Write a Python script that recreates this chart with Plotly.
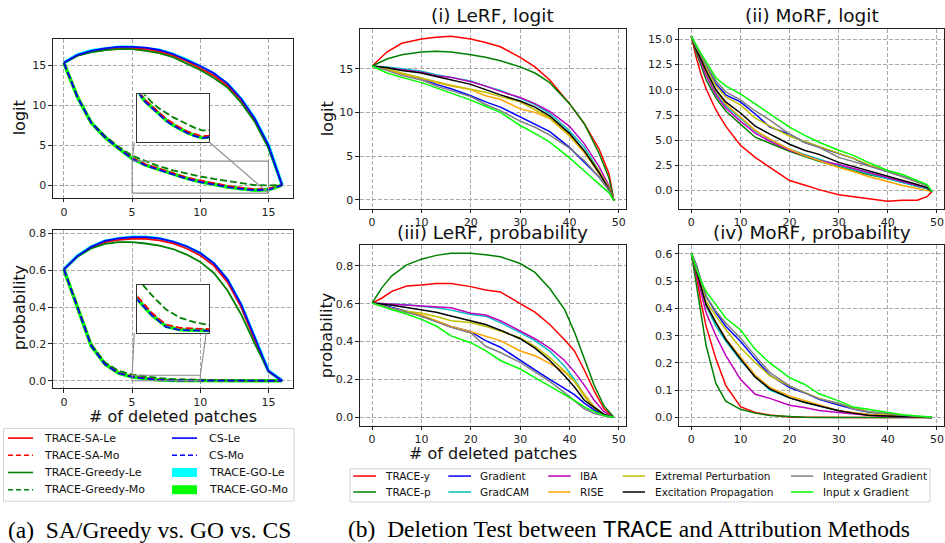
import plotly.graph_objects as go

W, H = 945, 543
FONT = "DejaVu Sans"

# ---------------- (a) data ----------------
xa = list(range(17))
# logit
logit_sa_le = [15.3, 16.2, 16.7, 16.9, 17.1, 17.1, 17.0, 16.7, 16.2, 15.5, 14.6, 13.7, 12.4, 10.6, 8.1, 4.8, 0.0]
logit_greedy_le = [15.3, 16.2, 16.6, 16.9, 17.0, 17.0, 16.8, 16.5, 16.0, 15.2, 14.4, 13.4, 12.2, 10.3, 7.9, 4.6, 0.0]
logit_cs_le = [15.3, 16.3, 16.8, 17.1, 17.3, 17.3, 17.2, 16.9, 16.4, 15.7, 14.9, 14.0, 12.7, 10.8, 8.3, 5.0, 0.0]
logit_go_le = [15.3, 16.3, 16.8, 17.05, 17.25, 17.25, 17.1, 16.85, 16.35, 15.65, 14.8, 13.9, 12.6, 10.75, 8.25, 4.95, 0.0]
logit_sa_mo = [15.3, 11.0, 7.8, 6.05, 4.65, 3.4, 2.6, 2.05, 1.45, 0.95, 0.58, 0.2, -0.1, -0.32, -0.5, -0.44, 0.0]
logit_greedy_mo = [15.3, 11.0, 7.9, 6.2, 4.8, 3.7, 3.0, 2.35, 1.85, 1.45, 1.08, 0.78, 0.5, 0.2, 0.0, -0.03, 0.0]
logit_cs_mo = [15.3, 11.0, 7.8, 6.0, 4.6, 3.3, 2.45, 1.9, 1.3, 0.8, 0.39, 0.05, -0.25, -0.48, -0.65, -0.58, 0.0]
logit_go_mo = [15.3, 11.0, 7.8, 6.0, 4.6, 3.35, 2.5, 1.95, 1.35, 0.85, 0.43, 0.08, -0.22, -0.45, -0.62, -0.56, 0.0]
# probability
prob_sa_le = [0.605, 0.675, 0.722, 0.752, 0.765, 0.770, 0.770, 0.762, 0.745, 0.718, 0.680, 0.625, 0.535, 0.400, 0.220, 0.050, 0.0]
prob_greedy_le = [0.605, 0.675, 0.718, 0.743, 0.752, 0.752, 0.745, 0.733, 0.715, 0.685, 0.645, 0.585, 0.490, 0.360, 0.200, 0.052, 0.0]
prob_cs_le = [0.605, 0.678, 0.727, 0.759, 0.773, 0.780, 0.780, 0.773, 0.755, 0.730, 0.693, 0.638, 0.549, 0.414, 0.234, 0.054, 0.0]
prob_go_le = [0.605, 0.677, 0.725, 0.757, 0.771, 0.778, 0.778, 0.771, 0.752, 0.727, 0.690, 0.634, 0.545, 0.410, 0.230, 0.053, 0.0]
prob_sa_mo = [0.605, 0.398, 0.192, 0.092, 0.043, 0.0228, 0.0125, 0.0052, 0.0031, 0.0025, 0.0021, 0.0016, 0.0012, 0.0009, 0.0006, 0.0004, 0.0]
prob_greedy_mo = [0.605, 0.400, 0.200, 0.100, 0.055, 0.034, 0.0235, 0.0145, 0.0093, 0.0066, 0.0048, 0.0035, 0.0025, 0.0017, 0.0011, 0.0007, 0.0]
prob_cs_mo = [0.605, 0.396, 0.189, 0.090, 0.041, 0.0207, 0.011, 0.0037, 0.0017, 0.0012, 0.001, 0.0008, 0.0006, 0.0005, 0.0004, 0.0003, 0.0]
prob_go_mo = [0.605, 0.396, 0.190, 0.091, 0.042, 0.021, 0.0112, 0.004, 0.0019, 0.0013, 0.0011, 0.0009, 0.0007, 0.0005, 0.0004, 0.0003, 0.0]

# ---------------- (b) data ----------------
methods = ["TRACE-y", "TRACE-p", "Gradient", "GradCAM", "IBA", "RISE",
           "Extremal Perturbation", "Excitation Propagation", "Integrated Gradient", "Input x Gradient"]
method_colors = ["#ff0000", "#008000", "#0000ff", "#00bfbf", "#bf00bf", "#ffa500",
                 "#bfbf00", "#000000", "#808080", "#00ff00"]

x_lerf_logit = [0, 3, 6, 10, 13, 16, 20, 23, 26, 30, 33, 36, 40, 43, 46, 48, 49]
lerf_logit_trace_y = [15.3, 16.9, 17.9, 18.4, 18.6, 18.7, 18.4, 18.0, 17.5, 16.3, 15.2, 13.7, 11.0, 8.7, 5.8, 3.0, -0.1]
lerf_logit_trace_p = [15.3, 16.1, 16.6, 16.9, 17.0, 16.9, 16.6, 16.3, 15.9, 15.2, 14.5, 13.4, 11.0, 8.7, 5.3, 2.5, -0.1]
lerf_logit_gradient = [15.3, 14.9, 14.4, 13.9, 13.2, 12.7, 11.9, 11.2, 10.6, 9.5, 8.7, 7.8, 6.0, 4.3, 2.6, 1.1, -0.1]
lerf_logit_gradcam = [15.3, 15.2, 15.0, 14.7, 14.3, 14.0, 13.6, 13.0, 12.5, 11.6, 10.9, 9.9, 7.9, 6.0, 3.3, 1.3, -0.1]
lerf_logit_iba = [15.3, 15.1, 14.9, 14.6, 14.2, 14.0, 13.5, 13.0, 12.4, 11.7, 11.0, 10.1, 8.4, 6.4, 3.8, 1.6, -0.1]
lerf_logit_rise = [15.3, 14.9, 14.4, 13.9, 13.4, 13.0, 12.6, 11.9, 11.5, 10.4, 10.0, 9.3, 7.3, 5.4, 3.0, 1.3, -0.1]
lerf_logit_extremal = [15.3, 15.0, 14.5, 13.9, 13.5, 13.1, 12.6, 12.3, 11.8, 11.2, 10.3, 9.4, 7.4, 5.6, 3.3, 1.4, -0.1]
lerf_logit_excitation = [15.3, 15.1, 14.8, 14.5, 14.1, 13.7, 13.2, 12.6, 12.0, 11.3, 10.6, 9.6, 7.6, 5.6, 3.1, 1.2, -0.1]
lerf_logit_intgrad = [15.3, 14.8, 14.2, 13.7, 13.0, 12.5, 11.8, 10.9, 10.2, 9.0, 8.3, 7.4, 5.9, 4.5, 2.6, 1.1, -0.1]
lerf_logit_inputxgrad = [15.3, 14.5, 14.0, 13.4, 12.8, 12.2, 11.4, 10.7, 10.0, 8.5, 7.6, 6.6, 4.8, 3.3, 1.8, 0.8, -0.1]

x_morf_logit = [0, 1, 2, 3, 5, 7, 10, 13, 16, 20, 23, 26, 30, 33, 36, 40, 43, 46, 48, 49]
morf_logit_trace_y = [15.3, 13.2, 11.5, 10.1, 8.0, 6.4, 4.5, 3.3, 2.3, 1.0, 0.55, 0.1, -0.4, -0.6, -0.85, -1.05, -0.95, -0.95, -0.6, -0.1]
morf_logit_trace_p = [15.3, 13.7, 12.4, 11.0, 9.2, 7.9, 6.6, 5.3, 4.7, 3.9, 3.4, 2.9, 2.4, 2.0, 1.6, 1.2, 0.8, 0.4, 0.2, -0.1]
morf_logit_gradient = [15.3, 14.1, 13.3, 12.3, 10.6, 9.5, 8.8, 7.6, 6.3, 5.6, 4.8, 4.3, 3.7, 3.2, 2.5, 1.9, 1.4, 0.9, 0.5, -0.1]
morf_logit_gradcam = [15.3, 14.0, 12.9, 11.6, 9.7, 8.4, 7.2, 5.9, 5.1, 4.1, 3.6, 3.1, 2.5, 2.1, 1.7, 1.2, 0.8, 0.4, 0.2, -0.1]
morf_logit_iba = [15.3, 13.9, 12.7, 11.4, 9.5, 8.2, 6.9, 5.7, 4.9, 4.0, 3.5, 3.0, 2.6, 2.2, 1.8, 1.3, 0.9, 0.5, 0.3, -0.1]
morf_logit_rise = [15.3, 14.0, 13.0, 11.8, 9.9, 8.6, 7.3, 6.0, 5.1, 4.1, 3.5, 3.0, 2.3, 1.9, 1.4, 0.9, 0.5, 0.2, 0.05, -0.1]
morf_logit_extremal = [15.3, 14.1, 13.2, 12.2, 10.4, 9.3, 8.5, 7.2, 6.4, 5.4, 4.9, 4.4, 3.7, 3.2, 2.6, 1.9, 1.4, 0.9, 0.5, -0.1]
morf_logit_excitation = [15.3, 14.0, 13.0, 11.9, 10.0, 8.8, 7.7, 6.4, 5.6, 4.6, 4.0, 3.6, 2.8, 2.4, 2.0, 1.4, 1.0, 0.6, 0.3, -0.1]
morf_logit_intgrad = [15.3, 14.2, 13.4, 12.5, 10.9, 9.8, 9.0, 7.9, 7.0, 5.6, 4.8, 4.3, 3.3, 2.9, 2.5, 1.9, 1.4, 0.9, 0.5, -0.1]
morf_logit_inputxgrad = [15.3, 14.4, 13.6, 12.8, 11.2, 10.4, 9.6, 8.6, 7.6, 6.3, 5.5, 4.8, 4.0, 3.5, 2.8, 2.0, 1.6, 1.0, 0.6, -0.1]

x_lerf_prob = [0, 2, 4, 7, 10, 13, 16, 20, 23, 26, 30, 33, 36, 39, 41, 43, 45, 47, 49]
lerf_prob_trace_y = [0.603, 0.63, 0.665, 0.693, 0.698, 0.706, 0.706, 0.69, 0.672, 0.662, 0.60, 0.555, 0.49, 0.41, 0.35, 0.25, 0.14, 0.045, 0.0]
lerf_prob_trace_p = [0.603, 0.685, 0.747, 0.805, 0.835, 0.855, 0.866, 0.866, 0.858, 0.848, 0.812, 0.765, 0.68, 0.57, 0.45, 0.31, 0.17, 0.06, 0.0]
lerf_prob_gradient = [0.603, 0.595, 0.58, 0.56, 0.535, 0.508, 0.48, 0.452, 0.405, 0.37, 0.30, 0.25, 0.20, 0.15, 0.12, 0.075, 0.04, 0.01, 0.0]
lerf_prob_gradcam = [0.603, 0.602, 0.598, 0.594, 0.587, 0.578, 0.566, 0.543, 0.534, 0.50, 0.447, 0.405, 0.35, 0.27, 0.20, 0.12, 0.055, 0.015, 0.0]
lerf_prob_iba = [0.603, 0.60, 0.595, 0.59, 0.587, 0.58, 0.578, 0.55, 0.54, 0.51, 0.455, 0.415, 0.365, 0.30, 0.24, 0.17, 0.09, 0.03, 0.0]
lerf_prob_rise = [0.603, 0.59, 0.575, 0.555, 0.54, 0.51, 0.48, 0.452, 0.43, 0.405, 0.35, 0.325, 0.285, 0.24, 0.19, 0.12, 0.055, 0.015, 0.0]
lerf_prob_extremal = [0.603, 0.59, 0.575, 0.56, 0.55, 0.532, 0.51, 0.50, 0.48, 0.455, 0.42, 0.375, 0.315, 0.245, 0.19, 0.11, 0.05, 0.015, 0.0]
lerf_prob_excitation = [0.603, 0.598, 0.592, 0.58, 0.568, 0.555, 0.535, 0.51, 0.49, 0.46, 0.415, 0.365, 0.30, 0.22, 0.16, 0.09, 0.05, 0.015, 0.0]
lerf_prob_intgrad = [0.603, 0.59, 0.578, 0.555, 0.534, 0.505, 0.475, 0.445, 0.375, 0.342, 0.29, 0.24, 0.19, 0.13, 0.09, 0.045, 0.02, 0.008, 0.0]
lerf_prob_inputxgrad = [0.603, 0.585, 0.568, 0.545, 0.517, 0.482, 0.43, 0.394, 0.352, 0.30, 0.255, 0.21, 0.165, 0.12, 0.09, 0.055, 0.03, 0.01, 0.0]

x_morf_prob = [0, 1, 2, 3, 5, 7, 10, 13, 16, 20, 23, 26, 30, 33, 36, 40, 43, 46, 49]
morf_prob_trace_y = [0.603, 0.52, 0.42, 0.335, 0.215, 0.118, 0.04, 0.018, 0.009, 0.002, 0.001, 0, 0, 0, 0, 0, 0, 0, 0]
morf_prob_trace_p = [0.603, 0.49, 0.37, 0.265, 0.125, 0.06, 0.03, 0.016, 0.007, 0.002, 0.001, 0, 0, 0, 0, 0, 0, 0, 0]
morf_prob_gradient = [0.603, 0.56, 0.50, 0.445, 0.385, 0.335, 0.28, 0.215, 0.155, 0.11, 0.091, 0.067, 0.046, 0.031, 0.02, 0.011, 0.007, 0.004, 0.0]
morf_prob_gradcam = [0.603, 0.54, 0.47, 0.41, 0.335, 0.28, 0.21, 0.15, 0.10, 0.072, 0.056, 0.042, 0.025, 0.016, 0.012, 0.007, 0.004, 0.002, 0.0]
morf_prob_iba = [0.603, 0.53, 0.45, 0.385, 0.30, 0.228, 0.14, 0.085, 0.07, 0.045, 0.037, 0.026, 0.018, 0.012, 0.008, 0.004, 0.002, 0.001, 0.0]
morf_prob_rise = [0.603, 0.54, 0.475, 0.415, 0.35, 0.29, 0.222, 0.156, 0.11, 0.078, 0.062, 0.045, 0.025, 0.018, 0.012, 0.008, 0.005, 0.003, 0.0]
morf_prob_extremal = [0.603, 0.55, 0.49, 0.427, 0.372, 0.323, 0.256, 0.202, 0.153, 0.115, 0.092, 0.07, 0.05, 0.035, 0.022, 0.012, 0.007, 0.004, 0.0]
morf_prob_excitation = [0.603, 0.54, 0.475, 0.415, 0.348, 0.287, 0.215, 0.148, 0.105, 0.072, 0.056, 0.042, 0.025, 0.016, 0.008, 0.005, 0.003, 0.002, 0.0]
morf_prob_intgrad = [0.603, 0.56, 0.50, 0.445, 0.39, 0.347, 0.292, 0.226, 0.165, 0.116, 0.091, 0.069, 0.052, 0.031, 0.022, 0.013, 0.008, 0.004, 0.0]
morf_prob_inputxgrad = [0.603, 0.545, 0.50, 0.462, 0.414, 0.365, 0.322, 0.25, 0.20, 0.146, 0.122, 0.087, 0.061, 0.038, 0.03, 0.018, 0.01, 0.005, 0.002]

lerf_logit = [lerf_logit_trace_y, lerf_logit_trace_p, lerf_logit_gradient, lerf_logit_gradcam, lerf_logit_iba,
              lerf_logit_rise, lerf_logit_extremal, lerf_logit_excitation, lerf_logit_intgrad, lerf_logit_inputxgrad]
morf_logit = [morf_logit_trace_y, morf_logit_trace_p, morf_logit_gradient, morf_logit_gradcam, morf_logit_iba,
              morf_logit_rise, morf_logit_extremal, morf_logit_excitation, morf_logit_intgrad, morf_logit_inputxgrad]
lerf_prob = [lerf_prob_trace_y, lerf_prob_trace_p, lerf_prob_gradient, lerf_prob_gradcam, lerf_prob_iba,
             lerf_prob_rise, lerf_prob_extremal, lerf_prob_excitation, lerf_prob_intgrad, lerf_prob_inputxgrad]
morf_prob = [morf_prob_trace_y, morf_prob_trace_p, morf_prob_gradient, morf_prob_gradcam, morf_prob_iba,
             morf_prob_rise, morf_prob_extremal, morf_prob_excitation, morf_prob_intgrad, morf_prob_inputxgrad]

# inset zoom windows
inset_logit_x = [5, 15]
inset_logit_y = [-1, 3]
inset_prob_x = [5, 10]
inset_prob_y = [0, 0.03]

# ---------------- helpers ----------------
def fx(p):
    return p / W

def fy(p):
    return 1 - p / H

GRID = dict(showgrid=True, gridcolor="#a8a8a8", griddash="4px,2px", gridwidth=0.8)

def axis(dom, rng, dtick, fmt=None, anchor=None, grid=True, labels=True):
    d = dict(domain=dom, range=rng, dtick=dtick, tick0=0, showline=True, mirror=True,
             linecolor="#222", linewidth=1.1, ticks="outside" if labels else "",
             ticklen=3.5, tickwidth=0.8, tickcolor="#222", zeroline=False,
             showticklabels=labels, tickfont=dict(family=FONT, size=11, color="#222"),
             anchor=anchor, fixedrange=True)
    if fmt:
        d["tickformat"] = fmt
    if grid:
        d.update(GRID)
    else:
        d["showgrid"] = False
    return d

# panel pixel boxes (left, top, right, bottom)
P_A1 = (53, 36, 293, 196)
P_A2 = (53, 228.3, 293, 387.3)
P_I = (360, 26, 626, 206.7)
P_II = (679.3, 26, 944, 206.7)
P_III = (360, 243.3, 626, 425)
P_IV = (679.3, 243.3, 944, 425)
P_INS1 = (137.3, 92, 209.3, 140)
P_INS2 = (137.3, 283.3, 209.3, 331.7)

def dom(b):
    return [fx(b[0]), fx(b[2])], [fy(b[3]), fy(b[1])]

layout = dict(width=W, height=H, margin=dict(l=0, r=0, t=0, b=0),
              paper_bgcolor="white", plot_bgcolor="white", showlegend=False)

xr_a = [-0.8, 16.8]
xr_b = [-2.45, 51.45]
panels = [
    (P_A1, xr_a, 5, None, [-1.6, 18.3], 5, None),
    (P_A2, xr_a, 5, None, [-0.04, 0.818], 0.2, ".1f"),
    (P_I, xr_b, 10, None, [-1.0, 19.55], 5, None),
    (P_II, xr_b, 10, None, [-1.78, 16.05], 2.5, ".1f"),
    (P_III, xr_b, 10, None, [-0.044, 0.91], 0.2, ".1f"),
    (P_IV, xr_b, 10, None, [-0.03, 0.633], 0.1, ".1f"),
]
for i, (box, xr, xd, xf, yr, yd, yf) in enumerate(panels, start=1):
    dx, dy = dom(box)
    sfx = "" if i == 1 else str(i)
    layout["xaxis" + sfx] = axis(dx, xr, xd, xf, anchor="y" + sfx)
    layout["yaxis" + sfx] = axis(dy, yr, yd, yf, anchor="x" + sfx)

for i, (box, xr, yr) in [(7, (P_INS1, inset_logit_x, inset_logit_y)), (8, (P_INS2, inset_prob_x, inset_prob_y))]:
    dx, dy = dom(box)
    layout["xaxis%d" % i] = axis(dx, xr, 5, anchor="y%d" % i, grid=False, labels=False)
    layout["yaxis%d" % i] = axis(dy, yr, 1, anchor="x%d" % i, grid=False, labels=False)
    layout["xaxis%d" % i]["linecolor"] = "#333"
    layout["yaxis%d" % i]["linecolor"] = "#333"
    layout["xaxis%d" % i]["linewidth"] = 1.3
    layout["yaxis%d" % i]["linewidth"] = 1.3

fig = go.Figure(layout=layout)

# ---------------- (a) traces ----------------
a_series_logit = [
    (logit_go_le, "#00ffff", 3.6, "solid"), (logit_go_mo, "#00ff00", 3.6, "solid"),
    (logit_sa_le, "#ff0000", 1.8, "solid"), (logit_sa_mo, "#ff0000", 1.8, "7px,3px"),
    (logit_greedy_le, "#008000", 1.8, "solid"), (logit_greedy_mo, "#008000", 1.8, "7px,3px"),
    (logit_cs_le, "#0000ff", 1.8, "solid"), (logit_cs_mo, "#0000ff", 1.8, "7px,3px"),
]
a_series_prob = [
    (prob_go_le, "#00ffff", 3.6, "solid"), (prob_go_mo, "#00ff00", 3.6, "solid"),
    (prob_sa_le, "#ff0000", 1.8, "solid"), (prob_sa_mo, "#ff0000", 1.8, "7px,3px"),
    (prob_greedy_le, "#008000", 1.8, "solid"), (prob_greedy_mo, "#008000", 1.8, "7px,3px"),
    (prob_cs_le, "#0000ff", 1.8, "solid"), (prob_cs_mo, "#0000ff", 1.8, "7px,3px"),
]
for series, axes_list in [(a_series_logit, [("x", "y"), ("x7", "y7")]),
                          (a_series_prob, [("x2", "y2"), ("x8", "y8")])]:
    for xa_ref, ya_ref in axes_list:
        for ys, col, wdt, dash in series:
            fig.add_trace(go.Scatter(x=xa, y=ys, mode="lines", xaxis=xa_ref, yaxis=ya_ref,
                                     line=dict(color=col, width=wdt, dash=dash),
                                     hoverinfo="skip"))

# ---------------- (b) traces ----------------
for xs, data, xr, yr in [(x_lerf_logit, lerf_logit, "x3", "y3"), (x_morf_logit, morf_logit, "x4", "y4"),
                         (x_lerf_prob, lerf_prob, "x5", "y5"), (x_morf_prob, morf_prob, "x6", "y6")]:
    for name, col, ys in zip(methods, method_colors, data):
        fig.add_trace(go.Scatter(x=xs, y=ys, mode="lines", name=name, xaxis=xr, yaxis=yr,
                                 line=dict(color=col, width=1.5), hoverinfo="skip"))

shapes = []
annotations = []

# ---------------- inset indicator rectangles and connectors ----------------
def to_paper(box, xr, yr, xv, yv):
    px = box[0] + (xv - xr[0]) / (xr[1] - xr[0]) * (box[2] - box[0])
    py = box[3] - (yv - yr[0]) / (yr[1] - yr[0]) * (box[3] - box[1])
    return px, py

GRAYL = dict(color="#8c8c8c", width=1.1)
# logit inset
r_tl = to_paper(P_A1, xr_a, [-1.6, 18.3], inset_logit_x[0], inset_logit_y[1])
r_br = to_paper(P_A1, xr_a, [-1.6, 18.3], inset_logit_x[1], inset_logit_y[0])
shapes.append(dict(type="rect", xref="paper", yref="paper", x0=fx(r_tl[0]), x1=fx(r_br[0]),
                   y0=fy(r_br[1]), y1=fy(r_tl[1]), line=GRAYL, layer="above"))
shapes.append(dict(type="line", xref="paper", yref="paper", x0=fx(P_INS1[0] - 3), y0=fy(P_INS1[3]),
                   x1=fx(r_tl[0]), y1=fy(r_tl[1]), line=GRAYL, layer="above"))
shapes.append(dict(type="line", xref="paper", yref="paper", x0=fx(P_INS1[2]), y0=fy(P_INS1[3]),
                   x1=fx(r_br[0]), y1=fy(r_br[1]), line=GRAYL, layer="above"))
# prob inset
q_tl = to_paper(P_A2, xr_a, [-0.04, 0.818], inset_prob_x[0], inset_prob_y[1])
q_br = to_paper(P_A2, xr_a, [-0.04, 0.818], inset_prob_x[1], inset_prob_y[0])
shapes.append(dict(type="rect", xref="paper", yref="paper", x0=fx(q_tl[0]), x1=fx(q_br[0]),
                   y0=fy(q_br[1]), y1=fy(q_tl[1]), line=GRAYL, layer="above"))
shapes.append(dict(type="line", xref="paper", yref="paper", x0=fx(P_INS2[0] - 3), y0=fy(P_INS2[3]),
                   x1=fx(q_tl[0]), y1=fy(q_tl[1]), line=GRAYL, layer="above"))
shapes.append(dict(type="line", xref="paper", yref="paper", x0=fx(P_INS2[2] - 3), y0=fy(P_INS2[3]),
                   x1=fx(q_br[0]), y1=fy(q_tl[1]), line=GRAYL, layer="above"))

# ---------------- text helpers ----------------
def text(s, x, y, size, angle=0, xanchor="center", family=FONT, color="#111"):
    annotations.append(dict(text=s, x=fx(x), y=fy(y), xref="paper", yref="paper",
                            showarrow=False, textangle=angle, xanchor=xanchor, yanchor="middle",
                            font=dict(family=family, size=size, color=color)))

# titles
text("(i) LeRF, logit", 493, 13, 18.5)
text("(ii) MoRF, logit", 812, 13, 18.5)
text("(iii) LeRF, probability", 493, 231, 18.5)
text("(iv) MoRF, probability", 812, 231, 18.5)
# axis titles
text("logit", 19, 116, 16, angle=-90)
text("probability", 19, 307, 16, angle=-90)
text("logit", 327, 117, 16, angle=-90)
text("probability", 326, 335, 16, angle=-90)
text("# of deleted patches", 173, 416, 16)
text("# of deleted patches", 493, 453, 16)

# ---------------- legend (a) ----------------
shapes.append(dict(type="rect", xref="paper", yref="paper", x0=fx(3.5), x1=fx(294), y0=fy(501), y1=fy(428),
                   line=dict(color="#d4d4d4", width=1), fillcolor="white", layer="above"))
leg_a = [
    ("TRACE-SA-Le", "#ff0000", "solid"), ("TRACE-SA-Mo", "#ff0000", "dash"),
    ("TRACE-Greedy-Le", "#008000", "solid"), ("TRACE-Greedy-Mo", "#008000", "dash"),
    ("CS-Le", "#0000ff", "solid"), ("CS-Mo", "#0000ff", "dash"),
    ("TRACE-GO-Le", "#00ffff", "patch"), ("TRACE-GO-Mo", "#00ff00", "patch"),
]
cols_a = [(8, 33, 42), (172, 197, 207)]
for k, (name, col, sty) in enumerate(leg_a):
    c = cols_a[k // 4]
    yy = 437.5 + 17.3 * (k % 4)
    if sty == "patch":
        shapes.append(dict(type="rect", xref="paper", yref="paper", x0=fx(c[0]), x1=fx(c[1]),
                           y0=fy(yy + 4.5), y1=fy(yy - 4.5), line=dict(width=0), fillcolor=col, layer="above"))
    else:
        shapes.append(dict(type="line", xref="paper", yref="paper", x0=fx(c[0]), x1=fx(c[1]),
                           y0=fy(yy), y1=fy(yy), layer="above",
                           line=dict(color=col, width=1.6, dash="solid" if sty == "solid" else "5px,3px")))
    text(name, c[2], yy, 11, xanchor="left")

# ---------------- legend (b) ----------------
shapes.append(dict(type="rect", xref="paper", yref="paper", x0=fx(350), x1=fx(930), y0=fy(501.7), y1=fy(468.3),
                   line=dict(color="#d4d4d4", width=1), fillcolor="white", layer="above"))
cols_b = [(353.3, 376, 383.3), (448.3, 471, 478.3), (548.3, 570.7, 578.3), (622.7, 645, 652.7), (791, 813.3, 821)]
for k, (name, col) in enumerate(zip(methods, method_colors)):
    c = cols_b[k // 2]
    yy = 475.7 + 16 * (k % 2)
    shapes.append(dict(type="line", xref="paper", yref="paper", x0=fx(c[0]), x1=fx(c[1]),
                       y0=fy(yy), y1=fy(yy), layer="above", line=dict(color=col, width=1.5)))
    text(name, c[2], yy, 10.5, xanchor="left")

# ---------------- captions ----------------
text("(a)  SA/Greedy vs. GO vs. CS", 6, 530, 23.5, xanchor="left", family="Liberation Serif", color="#000")
text("(b)  Deletion Test between <span style=\"font-family:Courier New;font-weight:300\">TRACE</span> and Attribution Methods",
     346, 530, 23.5, xanchor="left", family="Liberation Serif", color="#000")

fig.update_layout(shapes=shapes, annotations=annotations)
fig.write_html("out.html", config={"displayModeBar": False},
               post_script="document.body.style.margin='0px';document.body.style.overflow='hidden';")
